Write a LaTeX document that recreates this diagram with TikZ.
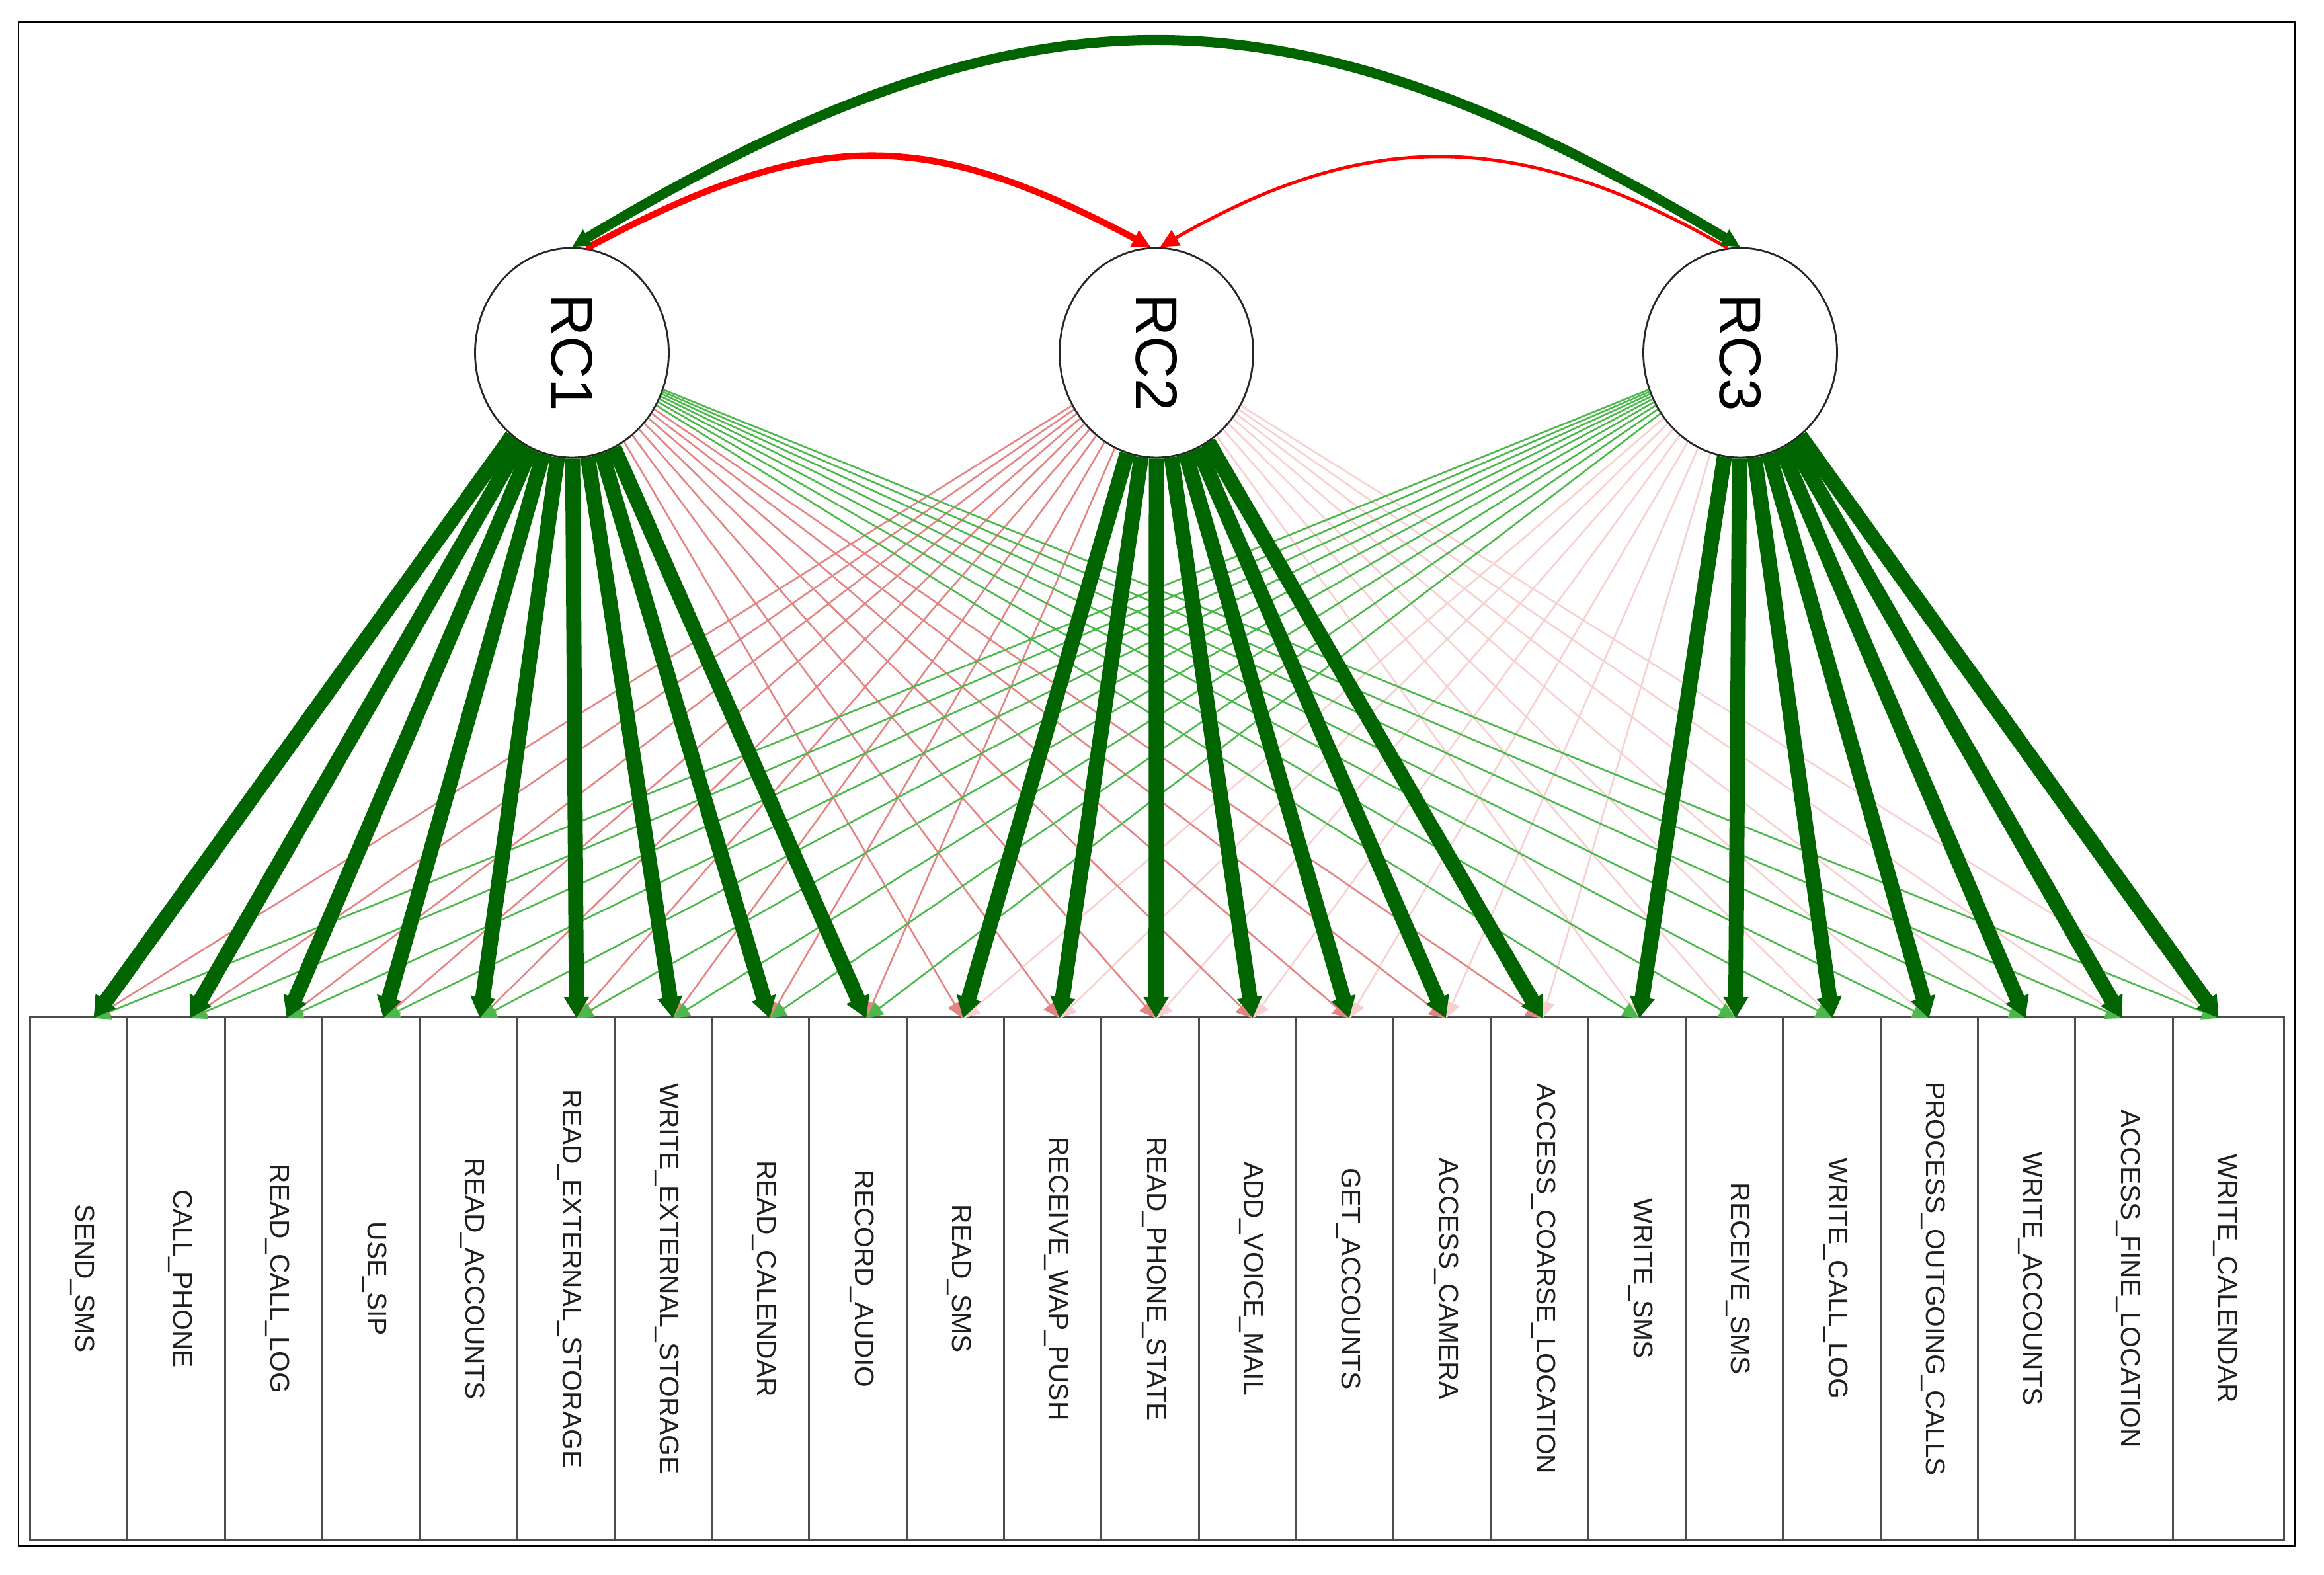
\documentclass[tikz,border=0pt]{standalone}
\usepackage{tikz}
\usepackage{xcolor}
\usepackage{graphicx}
\usepackage{fontspec}
\newfontfamily\plotfont{Liberation Sans}
\definecolor{semStrong}{HTML}{006400}
\definecolor{semWeakPos}{HTML}{4CB84C}
\definecolor{semWeakNeg}{HTML}{E38585}
\definecolor{semFaintNeg}{HTML}{F7D0D0}
\definecolor{semCovNeg}{HTML}{FF0000}
\definecolor{semBox}{HTML}{4D4D4D}
\usetikzlibrary{arrows.meta,shapes.geometric}

\tikzset{
  factornode/.style={ellipse, draw=black!85, line width=0.8pt, fill=white,
    minimum width=2.93cm, minimum height=3.17cm, inner sep=0pt,
    font=\plotfont\fontsize{25.3}{30}\selectfont},
  itembox/.style={rectangle, draw=semBox, line width=0.85pt, anchor=south west,
    minimum width=1.473cm, minimum height=7.91cm, inner sep=0pt},
  itemlabel/.style={rotate=-90, inner sep=0pt, text=black!88,
    font=\plotfont\fontsize{11.6}{13}\selectfont},
  loadstrong/.style={semStrong, line width=6.5pt, -{Triangle[length=0.32cm,width=0.36cm]}},
  loadpos/.style={semWeakPos, line width=0.75pt, -{Triangle[length=0.25cm,width=0.23cm]}},
  loadneg/.style={semWeakNeg, line width=0.75pt, -{Triangle[length=0.25cm,width=0.23cm]}},
  loadfaint/.style={semFaintNeg, line width=0.75pt, -{Triangle[length=0.25cm,width=0.23cm]}},
  covarc/.style={{Triangle[length=0.28cm,width=0.26cm]}-{Triangle[length=0.28cm,width=0.26cm]}},
  covhead/.style={-{Triangle[length=0.28cm,width=0.26cm]}},
}

\begin{document}
\begin{tikzpicture}
  \useasboundingbox (0,0) rectangle (35.15cm,23.82cm);
  \draw[line width=0.85pt] (0.28cm,0.44cm) rectangle (34.70cm,23.48cm);

  % observed items
  \node[itembox] (i1) at (0.440cm,0.51cm) {};
  \node[itemlabel] at ([xshift=0.81cm]i1.west) {SEND\_SMS};
  \node[itembox] (i2) at (1.913cm,0.51cm) {};
  \node[itemlabel] at ([xshift=0.81cm]i2.west) {CALL\_PHONE};
  \node[itembox] (i3) at (3.386cm,0.51cm) {};
  \node[itemlabel] at ([xshift=0.81cm]i3.west) {READ\_CALL\_LOG};
  \node[itembox] (i4) at (4.859cm,0.51cm) {};
  \node[itemlabel] at ([xshift=0.81cm]i4.west) {USE\_SIP};
  \node[itembox] (i5) at (6.332cm,0.51cm) {};
  \node[itemlabel] at ([xshift=0.81cm]i5.west) {READ\_ACCOUNTS};
  \node[itembox] (i6) at (7.805cm,0.51cm) {};
  \node[itemlabel] at ([xshift=0.81cm]i6.west) {READ\_EXTERNAL\_STORAGE};
  \node[itembox] (i7) at (9.278cm,0.51cm) {};
  \node[itemlabel] at ([xshift=0.81cm]i7.west) {WRITE\_EXTERNAL\_STORAGE};
  \node[itembox] (i8) at (10.751cm,0.51cm) {};
  \node[itemlabel] at ([xshift=0.81cm]i8.west) {READ\_CALENDAR};
  \node[itembox] (i9) at (12.224cm,0.51cm) {};
  \node[itemlabel] at ([xshift=0.81cm]i9.west) {RECORD\_AUDIO};
  \node[itembox] (i10) at (13.697cm,0.51cm) {};
  \node[itemlabel] at ([xshift=0.81cm]i10.west) {READ\_SMS};
  \node[itembox] (i11) at (15.170cm,0.51cm) {};
  \node[itemlabel] at ([xshift=0.81cm]i11.west) {RECEIVE\_WAP\_PUSH};
  \node[itembox] (i12) at (16.643cm,0.51cm) {};
  \node[itemlabel] at ([xshift=0.81cm]i12.west) {READ\_PHONE\_STATE};
  \node[itembox] (i13) at (18.116cm,0.51cm) {};
  \node[itemlabel] at ([xshift=0.81cm]i13.west) {ADD\_VOICE\_MAIL};
  \node[itembox] (i14) at (19.589cm,0.51cm) {};
  \node[itemlabel] at ([xshift=0.81cm]i14.west) {GET\_ACCOUNTS};
  \node[itembox] (i15) at (21.062cm,0.51cm) {};
  \node[itemlabel] at ([xshift=0.81cm]i15.west) {ACCESS\_CAMERA};
  \node[itembox] (i16) at (22.535cm,0.51cm) {};
  \node[itemlabel] at ([xshift=0.81cm]i16.west) {ACCESS\_COARSE\_LOCATION};
  \node[itembox] (i17) at (24.008cm,0.51cm) {};
  \node[itemlabel] at ([xshift=0.81cm]i17.west) {WRITE\_SMS};
  \node[itembox] (i18) at (25.481cm,0.51cm) {};
  \node[itemlabel] at ([xshift=0.81cm]i18.west) {RECEIVE\_SMS};
  \node[itembox] (i19) at (26.954cm,0.51cm) {};
  \node[itemlabel] at ([xshift=0.81cm]i19.west) {WRITE\_CALL\_LOG};
  \node[itembox] (i20) at (28.427cm,0.51cm) {};
  \node[itemlabel] at ([xshift=0.81cm]i20.west) {PROCESS\_OUTGOING\_CALLS};
  \node[itembox] (i21) at (29.900cm,0.51cm) {};
  \node[itemlabel] at ([xshift=0.81cm]i21.west) {WRITE\_ACCOUNTS};
  \node[itembox] (i22) at (31.373cm,0.51cm) {};
  \node[itemlabel] at ([xshift=0.81cm]i22.west) {ACCESS\_FINE\_LOCATION};
  \node[itembox, minimum width=1.684cm] (i23) at (32.846cm,0.51cm) {};
  \node[itemlabel] at ([xshift=0.81cm]i23.west) {WRITE\_CALENDAR};

  % arrow ends on the item row
  \coordinate (t1) at (1.415cm,8.42cm);
  \coordinate (t2) at (2.876cm,8.42cm);
  \coordinate (t3) at (4.337cm,8.42cm);
  \coordinate (t4) at (5.798cm,8.42cm);
  \coordinate (t5) at (7.259cm,8.42cm);
  \coordinate (t6) at (8.720cm,8.42cm);
  \coordinate (t7) at (10.181cm,8.42cm);
  \coordinate (t8) at (11.642cm,8.42cm);
  \coordinate (t9) at (13.103cm,8.42cm);
  \coordinate (t10) at (14.564cm,8.42cm);
  \coordinate (t11) at (16.025cm,8.42cm);
  \coordinate (t12) at (17.486cm,8.42cm);
  \coordinate (t13) at (18.947cm,8.42cm);
  \coordinate (t14) at (20.408cm,8.42cm);
  \coordinate (t15) at (21.869cm,8.42cm);
  \coordinate (t16) at (23.330cm,8.42cm);
  \coordinate (t17) at (24.791cm,8.42cm);
  \coordinate (t18) at (26.252cm,8.42cm);
  \coordinate (t19) at (27.713cm,8.42cm);
  \coordinate (t20) at (29.174cm,8.42cm);
  \coordinate (t21) at (30.635cm,8.42cm);
  \coordinate (t22) at (32.096cm,8.42cm);
  \coordinate (t23) at (33.557cm,8.42cm);

  % factors
  \node[factornode] (rc1) at (8.65cm,18.485cm) {\rotatebox{-90}{RC1}};
  \node[factornode] (rc2) at (17.49cm,18.485cm) {\rotatebox{-90}{RC2}};
  \node[factornode] (rc3) at (26.32cm,18.485cm) {\rotatebox{-90}{RC3}};

  % weak loadings
  \draw[loadfaint] (rc2) edge (t17) edge (t18) edge (t19) edge (t20) edge (t21) edge (t22) edge (t23);
  \draw[loadfaint] (rc3) edge (t10) edge (t11) edge (t12) edge (t13) edge (t14) edge (t15) edge (t16);
  \draw[loadneg] (rc1) edge (t10) edge (t11) edge (t12) edge (t13) edge (t14) edge (t15) edge (t16);
  \draw[loadneg] (rc2) edge (t1) edge (t2) edge (t3) edge (t4) edge (t5) edge (t6) edge (t7) edge (t8) edge (t9);
  \draw[loadpos] (rc1) edge (t17) edge (t18) edge (t19) edge (t20) edge (t21) edge (t22) edge (t23);
  \draw[loadpos] (rc3) edge (t1) edge (t2) edge (t3) edge (t4) edge (t5) edge (t6) edge (t7) edge (t8) edge (t9);

  % strong loadings
  \draw[loadstrong] (rc1) edge (t1) edge (t2) edge (t3) edge (t4) edge (t5) edge (t6) edge (t7) edge (t8) edge (t9);
  \draw[loadstrong] (rc2) edge (t10) edge (t11) edge (t12) edge (t13) edge (t14) edge (t15) edge (t16);
  \draw[loadstrong] (rc3) edge (t17) edge (t18) edge (t19) edge (t20) edge (t21) edge (t22) edge (t23);

  % factor correlations
  \draw[covhead, semCovNeg, line width=2.8pt] (rc1.82) .. controls +(3.44cm,1.84cm) and +(-3.44cm,1.83cm) .. (rc2.93);
  \draw[covhead, semCovNeg, line width=1.4pt] (rc3.97) .. controls +(-3.13cm,1.81cm) and +(3.13cm,1.81cm) .. (rc2.88);
  \draw[covarc, semStrong, line width=4.3pt] (rc1.north) .. controls +(6.88cm,4.13cm) and +(-6.88cm,4.13cm) .. (rc3.north);
\end{tikzpicture}
\end{document}
